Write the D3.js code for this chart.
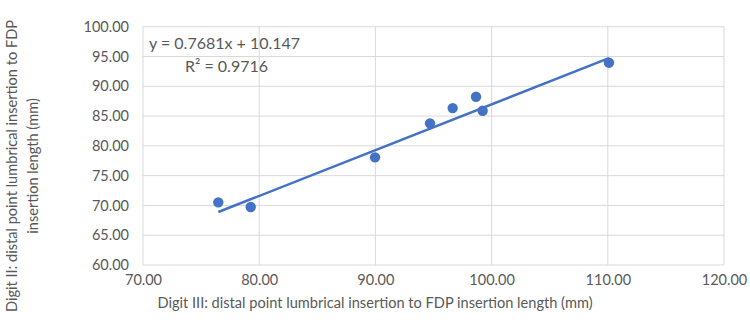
<!DOCTYPE html>
<html><head><meta charset="utf-8">
<script src="https://cdn.jsdelivr.net/npm/d3@7"></script>
<style>body{margin:0;background:#fff}text{font-family:Lato,"Open Sans",sans-serif;fill:#595959}</style>
</head><body><svg id="c" width="750" height="334"></svg>
<script>
const xValues = [76.48, 79.27, 89.97, 94.70, 96.65, 98.66, 99.23, 110.10];
const yValues = [70.52, 69.73, 78.07, 83.78, 86.34, 88.24, 85.89, 93.96];
const xTicks = [70, 80, 90, 100, 110, 120];
const yTicks = [60, 65, 70, 75, 80, 85, 90, 95, 100];
const trendSlope = 0.7681, trendIntercept = 10.147;
const equationLabel = "y = 0.7681x + 10.147";
const r2Label = "R² = 0.9716";
const xTitle = "Digit III: distal point lumbrical insertion to FDP insertion length (mm)";
const yTitleLines = ["Digit II: distal point lumbrical insertion to FDP", "insertion length (mm)"];

const svg = d3.select("#c");
const L = 143, R = 724, T = 26.7, B = 265;
const x = d3.scaleLinear().domain([70, 120]).range([L, R]);
const y = d3.scaleLinear().domain([60, 100]).range([B, T]);
const blue = "#4472C4", grid = "#d9d9d9";

// gridlines
svg.append("g").selectAll("line").data(yTicks).join("line")
  .attr("x1", L).attr("x2", R).attr("y1", d => y(d)).attr("y2", d => y(d))
  .attr("stroke", grid).attr("stroke-width", 1);
svg.append("g").selectAll("line").data(xTicks).join("line")
  .attr("y1", T).attr("y2", B).attr("x1", d => x(d)).attr("x2", d => x(d))
  .attr("stroke", grid).attr("stroke-width", 1);

// axes (labels only)
const xa = svg.append("g").attr("transform", `translate(0,${B})`)
  .call(d3.axisBottom(x).tickValues(xTicks).tickFormat(d3.format(".2f")).tickSize(0).tickPadding(10));
const ya = svg.append("g").attr("transform", `translate(${L},0)`)
  .call(d3.axisLeft(y).tickValues(yTicks).tickFormat(d3.format(".2f")).tickSize(0).tickPadding(14));
[xa, ya].forEach(a => { a.select(".domain").remove(); a.selectAll("text").style("font-size", "14.5px").style("fill", "#595959").style("font-family", "Lato, sans-serif"); });

// trendline
const xmin = d3.min(xValues), xmax = d3.max(xValues);
svg.append("line")
  .attr("x1", x(xmin)).attr("y1", y(trendSlope * xmin + trendIntercept))
  .attr("x2", x(xmax)).attr("y2", y(trendSlope * xmax + trendIntercept))
  .attr("stroke", blue).attr("stroke-width", 2.5);

// points
svg.append("g").selectAll("circle").data(xValues).join("circle")
  .attr("cx", d => x(d)).attr("cy", (d, i) => y(yValues[i])).attr("r", 5.2).attr("fill", blue);

// equation
svg.append("text").attr("x", 149).attr("y", 49).style("font-size", "16px").text(equationLabel);
svg.append("text").attr("x", 185).attr("y", 72).style("font-size", "16px").text(r2Label);

// titles
svg.append("text").attr("x", 375).attr("y", 308).attr("text-anchor", "middle").style("font-size", "14.6px").text(xTitle);
const yt = svg.append("text").attr("transform", "translate(17,166) rotate(-90)").attr("text-anchor", "middle").style("font-size", "14.6px");
yTitleLines.forEach((t, i) => yt.append("tspan").attr("x", 0).attr("dy", i === 0 ? 0 : 21).text(t));
</script></body></html>
